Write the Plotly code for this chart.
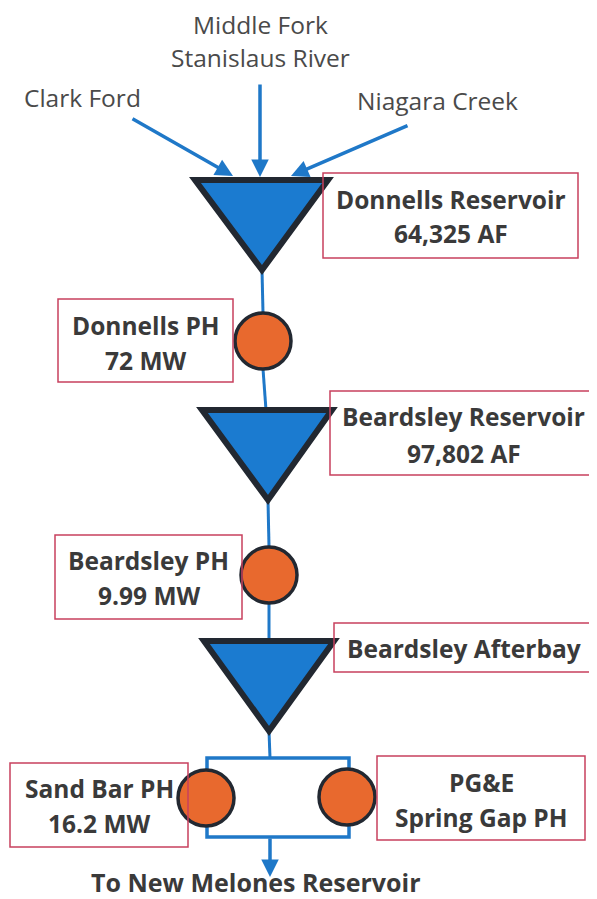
import plotly.graph_objects as go

# ---- data ----
inflow_names = [["Middle Fork", "Stanislaus River"], ["Clark Ford"], ["Niagara Creek"]]
reservoir_names = ["Donnells Reservoir", "Beardsley Reservoir", "Beardsley Afterbay"]
reservoir_storage = ["64,325 AF", "97,802 AF", ""]
powerhouse_names = ["Donnells PH", "Beardsley PH", "Sand Bar PH", "PG&E"]
powerhouse_capacity = ["72 MW", "9.99 MW", "16.2 MW", "Spring Gap PH"]
outflow_name = "To New Melones Reservoir"

# ---- layout geometry (page-pixel space) ----
W, H = 597, 899
OFF = 8  # default page body margin
BLUE = "#1f78c8"
TRI_FILL = "#1b7bd0"
DARK = "#222831"
ORANGE = "#e8692e"
BOX = "#c8405e"
TXT = "#3a3a3a"
FONT = "Open Sans"

# triangles: (left x, right x, top y, tip x, tip y)
tri_geom = [(195, 328, 180, 262, 270), (202, 332, 410, 268, 500), (204, 334, 641, 269, 731)]
# reservoir label boxes: (x0, y0, x1, y1) and text line y positions
res_boxes = [(323, 173, 578, 258), (330, 391, 602, 475), (334, 623, 593, 672)]
res_text_y = [(199, 233), (416, 453), (648, None)]
# powerhouse circles: (cx, cy)
ph_circles = [(263, 341), (269, 575), (206, 798), (347, 797)]
R = 28
ph_boxes = [(58, 299, 233, 382), (55, 535, 242, 619), (10, 763, 188, 847), (377, 756, 585, 840)]
ph_text_y = [(325, 360), (560, 595), (788, 823), (782, 817)]

fig = go.Figure()
shapes = []
annotations = []

def seg(x0, y0, x1, y1, w=3, color=BLUE):
    shapes.append(dict(type="line", x0=x0, y0=y0, x1=x1, y1=y1, xref="x", yref="y",
                       line=dict(color=color, width=w), layer="below"))

# main river line segments
seg(262, 270, 263, 313)
seg(263, 369, 266, 410)
seg(268, 500, 269, 547)
seg(269, 603, 269, 641)
seg(269, 731, 270, 758)
# bracket around lower powerhouses
shapes.append(dict(type="rect", x0=207, y0=758, x1=349, y1=837, xref="x", yref="y",
                   line=dict(color=BLUE, width=3.5), layer="below"))

# triangles
for (lx, rx, ty, tx, tyy) in tri_geom:
    shapes.append(dict(type="path", path=f"M {lx},{ty} L {rx},{ty} L {tx},{tyy} Z",
                       xref="x", yref="y", fillcolor=TRI_FILL,
                       line=dict(color=DARK, width=6)))

# circles
for (cx, cy) in ph_circles:
    shapes.append(dict(type="circle", x0=cx - R, y0=cy - R, x1=cx + R, y1=cy + R,
                       xref="x", yref="y", fillcolor=ORANGE,
                       line=dict(color=DARK, width=3.5)))

# label boxes
for (x0, y0, x1, y1) in res_boxes + ph_boxes:
    shapes.append(dict(type="rect", x0=x0, y0=y0, x1=x1, y1=y1, xref="x", yref="y",
                       line=dict(color=BOX, width=1.5), fillcolor="rgba(0,0,0,0)"))

BS = 24.5
def txt(x, y, s, size=BS, weight=700, color=TXT):
    annotations.append(dict(x=x, y=y, xref="x", yref="y", text=s, showarrow=False,
                            borderpad=0,
                            font=dict(family=FONT, size=size, color=color, weight=weight)))

for (x0, y0, x1, y1), (ya, yb), n, v in zip(res_boxes, res_text_y, reservoir_names, reservoir_storage):
    cx = (x0 + min(x1, W)) / 2
    txt(cx, ya, n)
    if v:
        txt(cx, yb, v)
for (x0, y0, x1, y1), (ya, yb), n, v in zip(ph_boxes, ph_text_y, powerhouse_names, powerhouse_capacity):
    cx = (x0 + x1) / 2
    txt(cx, ya, n)
    if v:
        txt(cx, yb, v)

# inflow labels
inflow_pos = [(260, [24, 57]), (82, [97]), (437, [100])]
for (x, ys), lines in zip(inflow_pos, inflow_names):
    for y, s in zip(ys, lines):
        txt(x, y, s, size=24.5, weight=400, color="#4a4a4a")

# inflow arrows: (tail x, tail y, head x, head y)
inflow_arrows = [(260, 83, 260, 177), (131, 118, 233, 176), (409, 125, 291, 176)]
for (tx, ty, hx, hy) in inflow_arrows:
    annotations.append(dict(x=hx, y=hy, ax=tx, ay=ty, xref="x", yref="y", axref="x", ayref="y",
                            showarrow=True, arrowhead=2, arrowsize=1.0, arrowwidth=3.5,
                            arrowcolor=BLUE, text=""))

# outflow arrow
annotations.append(dict(x=270, y=877, ax=270, ay=837, xref="x", yref="y", axref="x", ayref="y",
                        showarrow=True, arrowhead=2, arrowsize=1.0, arrowwidth=3.5,
                        arrowcolor=BLUE, text=""))
txt(256, 882, outflow_name, size=25)

fig.update_layout(
    width=W - OFF, height=H - OFF, margin=dict(l=0, r=0, t=0, b=0),
    paper_bgcolor="white", plot_bgcolor="white",
    xaxis=dict(range=[OFF, W], visible=False, fixedrange=True),
    yaxis=dict(range=[H, OFF], visible=False, fixedrange=True),
    shapes=shapes, annotations=annotations, showlegend=False,
)
fig.write_html("out.html")
